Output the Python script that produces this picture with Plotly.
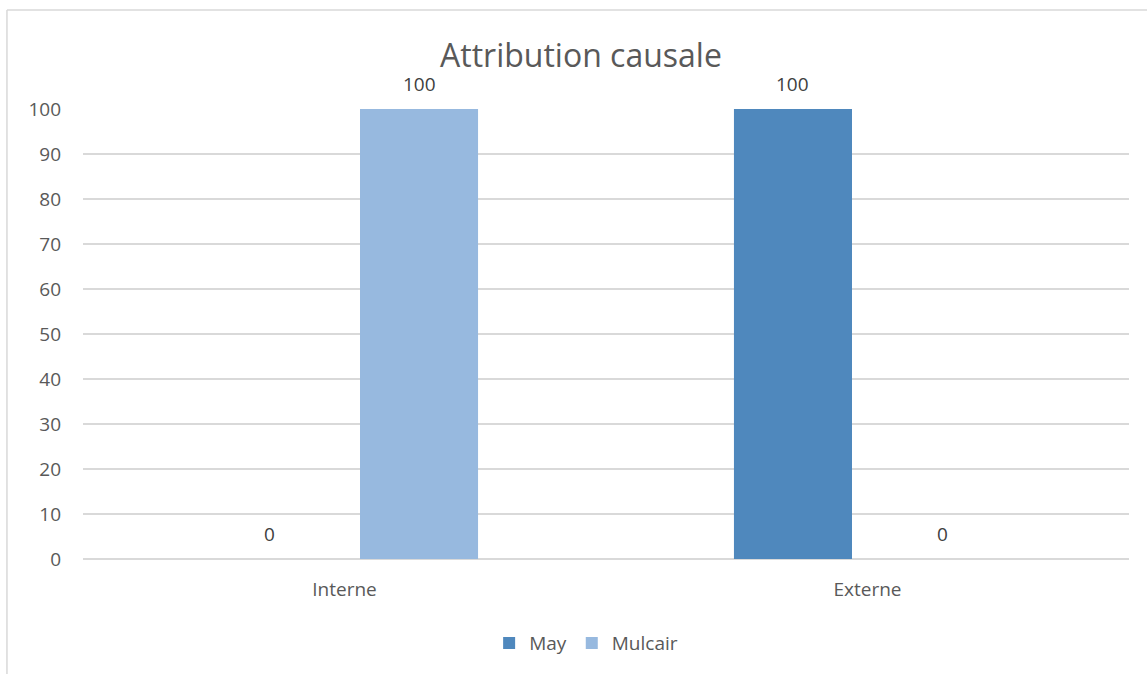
import plotly.graph_objects as go

# Chart data
categories = ["Interne", "Externe"]
may_values = [0, 100]
mulcair_values = [100, 0]
series_names = ["May", "Mulcair"]
series_colors = ["#4F88BD", "#97B9DF"]
y_ticks = list(range(0, 101, 10))

FONT = "'Open Sans', sans-serif"
TEXT_GREY = "#595959"
GRID = "#D9D9D9"

fig = go.Figure()
for name, vals, color in zip(series_names, [may_values, mulcair_values], series_colors):
    fig.add_trace(go.Bar(
        name=name, x=categories, y=vals, marker=dict(color=color, line=dict(width=0)),
    ))

# Bar layout: group occupies 57% of each category, small gap between series
bargap = 0.43
bargroupgap = 0.208
slot = (1 - bargap) / 2
offsets = [-slot / 2, slot / 2]

# Value labels above each bar
annotations = []
for off, vals in zip(offsets, [may_values, mulcair_values]):
    for i, v in enumerate(vals):
        annotations.append(dict(
            x=i + off, y=v, xref="x", yref="y", text=str(v), showarrow=False,
            yshift=25, font=dict(family=FONT, size=19, color="#404040"),
        ))

# Title
annotations.append(dict(
    text="Attribution causale", x=0.476, y=1.12, xref="paper", yref="paper",
    xanchor="center", yanchor="middle", showarrow=False,
    font=dict(family=FONT, size=32, color=TEXT_GREY),
))

# Chart-area frame (left and top edges)
shapes = [
    dict(type="line", xref="paper", yref="paper", x0=-0.0727, x1=-0.0727, y0=1.22, y1=-0.3,
         line=dict(color=GRID, width=1.5)),
    dict(type="line", xref="paper", yref="paper", x0=-0.0727, x1=1.03, y0=1.22, y1=1.22,
         line=dict(color=GRID, width=1.5)),
]

fig.update_layout(
    width=1147, height=674,
    margin=dict(l=83, r=18, t=109, b=115),
    paper_bgcolor="white", plot_bgcolor="white",
    barmode="group", bargap=bargap, bargroupgap=bargroupgap,
    showlegend=True,
    legend=dict(orientation="h", x=0.481, xanchor="center", y=-0.187, yanchor="middle",
                font=dict(family=FONT, size=19, color=TEXT_GREY), itemwidth=30,
                traceorder="normal"),
    xaxis=dict(showgrid=False, showline=False, ticks="",
               tickfont=dict(family=FONT, size=19, color=TEXT_GREY), ticklabelstandoff=17),
    yaxis=dict(range=[0, 100], tickvals=y_ticks, showgrid=True, gridcolor=GRID, gridwidth=1.5,
               zeroline=True, zerolinecolor=GRID, zerolinewidth=1.5, showline=False,
               ticks="", tickfont=dict(family=FONT, size=19, color=TEXT_GREY), ticklabelstandoff=21),
    annotations=annotations,
    shapes=shapes,
)

fig.write_html("out.html")
